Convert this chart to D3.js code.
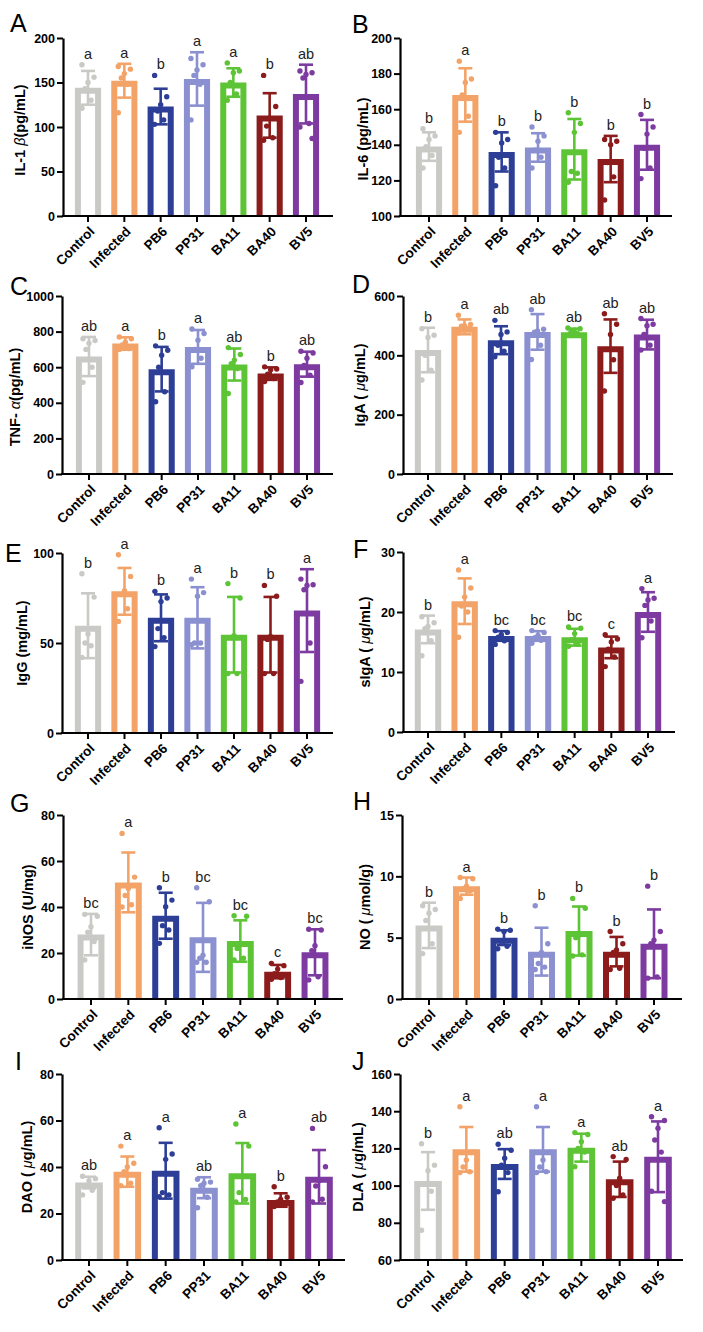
<!DOCTYPE html>
<html><head><meta charset="utf-8">
<script src="https://cdn.jsdelivr.net/npm/d3@7"></script>
<style>
body{margin:0;background:#fff;}
svg{display:block;font-family:"Liberation Sans",Arial,sans-serif;}
</style>
</head><body>
<svg id="chart" width="703" height="1332"></svg>
<script>
// ---------- data ----------
const categories = ["Control","Infected","PB6","PP31","BA11","BA40","BV5"];
const barColors = ["#c9c9c6","#f3a368","#2d3e97","#8b90d0","#5dc436","#8c1c1c","#7d3aa0"];

// A: IL-1β
const il1bTicks = [0,50,100,150,200];
const il1bMean = [144,152,123,154,150,113,137];
const il1bSD = [19,19,20,30,16,25,33];
const il1bPoints = [[170,156,150,143,130,121],[168,165,160,155,148,116],[158,134,125,118,108,103],[177,170,164,158,148,108],[172,163,161,150,137,130],[158,123,110,101,88,85],[163,161,159,155,104,100,87]];
const il1bSig = ["a","a","b","a","a","b","ab"];

// B: IL-6
const il6Ticks = [100,120,140,160,180,200];
const il6Mean = [139,168,136,138.5,137.5,132,140];
const il6SD = [8,15,11,8,17,13,14];
const il6Points = [[149,145,143,139,134,127],[187,177,175,168,156,147],[147,143,141,133,127,117],[150,145,142,137,133,127],[158,152,147,125,124,119],[143,142,140,130,122,109],[157,150,146,138,127,121]];
const il6Sig = ["b","a","b","b","b","b","b"];

// C: TNF-α
const tnfTicks = [0,200,400,600,800,1000];
const tnfMean = [660,733,589,714,615,564,617];
const tnfSD = [110,35,125,95,90,35,70];
const tnfPoints = [[760,750,735,700,600,515],[770,760,740,725,705,700],[720,695,667,600,462,406],[815,789,751,700,650,602],[710,671,640,620,592,452],[602,590,585,560,536,520],[690,680,650,610,555,514]];
const tnfSig = ["ab","a","b","a","ab","b","ab"];

// D: IgA
const igaTicks = [0,200,400,600];
const igaMean = [418,496,451,479,478,431,470];
const igaSD = [75,25,47,60,12,90,50];
const igaPoints = [[490,468,460,400,350,317],[535,504,500,498,490,475],[518,479,470,434,414,395],[554,488,482,478,434,386],[492,490,485,478,475,468],[540,505,470,420,385,280],[524,505,500,470,434,418]];
const igaSig = ["b","a","ab","ab","ab","ab","ab"];

// E: IgG
const iggTicks = [0,50,100];
const iggMean = [59.6,78.7,64,64,54.6,54.6,68];
const iggSD = [18,13,13,17,21,21,23];
const iggPoints = [[88.5,75.5,55,50,48.5,42],[99,87,79,77,69,62],[78.7,75,73,58,53,48],[85.5,78,76,50,50,49],[83,75,54,53,33,33],[82,76,53.7,52,33,33],[85.5,82.4,82,79.6,50,28.7]];
const iggSig = ["b","a","b","a","b","b","a"];

// F: sIgA
const sigaTicks = [0,10,20,30];
const sigaMean = [17.1,21.8,16,16,15.8,14.1,20];
const sigaSD = [2.3,3.8,0.8,0.8,1.4,1.8,3.3];
const sigaPoints = [[19.2,18.2,17.6,17.2,15.2,12.7],[27,24,22.5,21,20,15.8],[16.9,16.6,16.2,15.8,15.2,14.6],[16.9,16.6,16.1,15.7,15.3,14.8],[17.5,17.3,16.4,15.4,14.6,14.3],[16.2,15.5,15,13.8,12.5,10.9],[23.9,22.3,22,21.1,18.5,15.7]];
const sigaSig = ["b","a","bc","bc","bc","c","a"];

// G: iNOS
const inosTicks = [0,20,40,60,80];
const inosMean = [28,50.7,36.2,26.8,25.2,11.9,20.3];
const inosSD = [9,13,10,15,9,2.9,10];
const inosPoints = [[36.8,36,31.4,29,25,17],[72,53,48,45,41,40],[48.4,43,40.1,31.9,30,24.2],[48.4,42.3,19,17.7,16,16],[36.2,36,23.9,22,17.7,17],[15.5,14.5,13,11,9.3,8.6],[30.3,30,23.2,21,9.7,8.3]];
const inosSig = ["bc","a","b","bc","bc","c","bc"];

// H: NO
const noTicks = [0,5,10,15];
const noMean = [6.0,9.2,5.0,3.86,5.54,3.86,4.5];
const noSD = [1.85,0.7,0.6,1.95,2.0,1.2,2.8];
const noPoints = [[7.6,7.3,7.0,6.4,4.5,3.7],[9.9,9.8,9.2,9.0,8.8,8.2],[5.7,5.6,5.5,4.7,4.3,4.1],[7.6,4.5,3.8,2.9,2.6,2.4],[8.2,7.4,5.2,5.0,3.6,3.5],[5.5,4.5,4.0,3.8,2.5,2.4],[9.2,5.5,4.8,4.5,1.8,1.7]];
const noSig = ["b","a","b","b","b","b","b"];

// I: DAO
const daoTicks = [0,20,40,60,80];
const daoMean = [33.3,38,38.4,31.1,37.3,25.8,35.8];
const daoSD = [2.5,6.5,12,4.5,13,2.9,11.5];
const daoPoints = [[36,35,34,32,30,28],[49,41.6,40,38,33,32],[56.9,45.6,43.3,29,28,27.2],[34.7,33.5,33,32,27,22.5],[58.5,49,36,29,26,25],[31.5,27,26,25,24,23],[56.6,40.1,34.1,31.8,26.1,25]];
const daoSig = ["ab","a","a","ab","a","b","ab"];

// J: DLA
const dlaTicks = [60,80,100,120,140,160];
const dlaMean = [102.5,119.5,111.6,119.5,120.4,103.4,115.5];
const dlaSD = [15.5,12,8,12,7.5,9.5,19];
const dlaPoints = [[122.5,111,108,101,97,76],[142.4,118,113.8,110,107.5,107],[122.2,119,114.7,111,107,96.7],[142.4,118,113.8,110,107.5,107],[128.5,127.5,123.6,120,118,110.2],[115.6,114,104,100,95,93.2],[137,135,130.8,124.5,118,97,91.4]];
const dlaSig = ["b","a","ab","a","a","ab","a"];

// ---------- layout ----------
const panels = [
  {letter:"A", lx:10, ly:32, label:[["IL-1 ",0],["β",1],["(pg/mL)",0]], ylx:20, yldy:3,
   ticks:il1bTicks, mean:il1bMean, sd:il1bSD, pts:il1bPoints, sig:il1bSig,
   ax:63, top:38, bot:216, xEnd:333, c0:88, c6:306},
  {letter:"B", lx:352, ly:33, label:[["IL-6 (pg/mL)",0]], ylx:363, yldy:12,
   ticks:il6Ticks, mean:il6Mean, sd:il6SD, pts:il6Points, sig:il6Sig,
   ax:400, top:38, bot:216, xEnd:672, c0:429, c6:647},
  {letter:"C", lx:10, ly:295, label:[["TNF- ",0],["α",1],["(pg/mL)",0]], ylx:15, yldy:12,
   ticks:tnfTicks, mean:tnfMean, sd:tnfSD, pts:tnfPoints, sig:tnfSig,
   ax:62, top:296, bot:474, xEnd:333, c0:89, c6:307},
  {letter:"D", lx:352, ly:293, label:[["IgA ( ",0],["μ",1],["g/mL)",0]], ylx:360, yldy:0,
   ticks:igaTicks, mean:igaMean, sd:igaSD, pts:igaPoints, sig:igaSig,
   ax:403, top:296, bot:474, xEnd:673, c0:428, c6:647},
  {letter:"E", lx:5, ly:562, label:[["IgG (mg/mL)",0]], ylx:22, yldy:0,
   ticks:iggTicks, mean:iggMean, sd:iggSD, pts:iggPoints, sig:iggSig,
   ax:62, top:553, bot:733, xEnd:333, c0:88, c6:307},
  {letter:"F", lx:353, ly:558, label:[["sIgA ( ",0],["μ",1],["g/mL)",0]], ylx:365, yldy:0,
   ticks:sigaTicks, mean:sigaMean, sd:sigaSD, pts:sigaPoints, sig:sigaSig,
   ax:403, top:552, bot:732, xEnd:675, c0:428, c6:648},
  {letter:"G", lx:10, ly:812, label:[["iNOS (U/mg)",0]], ylx:28, yldy:0,
   ticks:inosTicks, mean:inosMean, sd:inosSD, pts:inosPoints, sig:inosSig,
   ax:63, top:815, bot:999, xEnd:343, c0:91, c6:315},
  {letter:"H", lx:353, ly:810, label:[["NO ( ",0],["μ",1],["mol/g)",0]], ylx:365, yldy:0,
   ticks:noTicks, mean:noMean, sd:noSD, pts:noPoints, sig:noSig,
   ax:402, top:815, bot:999, xEnd:682, c0:429, c6:654},
  {letter:"I", lx:15, ly:1070, label:[["DAO ( ",0],["μ",1],["g/mL)",0]], ylx:27, yldy:0,
   ticks:daoTicks, mean:daoMean, sd:daoSD, pts:daoPoints, sig:daoSig,
   ax:62, top:1074, bot:1260, xEnd:345, c0:89, c6:319},
  {letter:"J", lx:352, ly:1070, label:[["DLA ( ",0],["μ",1],["g/mL)",0]], ylx:358, yldy:0,
   ticks:dlaTicks, mean:dlaMean, sd:dlaSD, pts:dlaPoints, sig:dlaSig,
   ax:400, top:1074, bot:1260, xEnd:683, c0:428, c6:658}
];

const offsets = [-0.3, 0.3, 0, -0.15, 0.15, -0.3, 0.3];
const svg = d3.select("#chart");
svg.append("rect").attr("width",703).attr("height",1332).attr("fill","#fff");

panels.forEach(p => {
  const g = svg.append("g");
  const step = (p.c6 - p.c0) / 6;
  const x = d3.scaleBand().domain(categories)
    .range([p.c0 - step/2, p.c6 + step/2]).paddingInner(0.28).paddingOuter(0.14);
  const y = d3.scaleLinear().domain([p.ticks[0], p.ticks[p.ticks.length-1]]).range([p.bot, p.top]);
  const bw = x.bandwidth();
  const sw = 6;
  const cx = c => x(c) + bw/2;

  // bars (open outline, bottom edge hidden under the axis)
  g.selectAll("path.bar").data(categories).join("path")
    .attr("d", (c,i) => {
      const x0 = x(c) + sw/2, x1 = x(c) + bw - sw/2, yt = y(p.mean[i]) + sw/2, yb = y(p.ticks[0]);
      return `M${x0},${yb}V${yt}H${x1}V${yb}`;
    })
    .attr("fill","#fff")
    .attr("stroke",(c,i)=>barColors[i])
    .attr("stroke-width", sw)
    .attr("stroke-linejoin","miter");

  // error bars
  categories.forEach((c,i) => {
    const col = barColors[i];
    const yt = y(p.mean[i] + p.sd[i]), yb = y(Math.max(p.ticks[0], p.mean[i] - p.sd[i]));
    const eg = g.append("g").attr("stroke", col).attr("stroke-width", 2.6).attr("fill","none");
    eg.append("line").attr("x1",cx(c)).attr("x2",cx(c)).attr("y1",yt).attr("y2",yb);
    eg.append("line").attr("x1",cx(c)-7).attr("x2",cx(c)+7).attr("y1",yt).attr("y2",yt);
    eg.append("line").attr("x1",cx(c)-7).attr("x2",cx(c)+7).attr("y1",yb).attr("y2",yb);
  });

  // points
  categories.forEach((c,i) => {
    g.selectAll(null).data(p.pts[i]).join("circle")
      .attr("cx", (v,k) => cx(c) + offsets[k % offsets.length] * (bw - sw))
      .attr("cy", v => y(v))
      .attr("r", 2.7)
      .attr("fill", barColors[i]);
  });

  // significance letters
  categories.forEach((c,i) => {
    const topVal = Math.max(p.mean[i] + p.sd[i], d3.max(p.pts[i]));
    g.append("text").attr("x", cx(c)).attr("y", y(topVal) - 6)
      .attr("text-anchor","middle").attr("font-size",14.5).attr("fill","#222")
      .text(p.sig[i]);
  });

  // y axis
  const yAxis = g.append("g").attr("transform",`translate(${p.ax},0)`)
    .call(d3.axisLeft(y).tickValues(p.ticks).tickSize(6).tickSizeOuter(0).tickPadding(2).tickFormat(d3.format("d")));
  yAxis.select(".domain").attr("stroke","#000").attr("stroke-width",2.2);
  yAxis.selectAll(".tick line").attr("stroke","#000").attr("stroke-width",2);
  yAxis.selectAll(".tick text").attr("font-size",12.5).attr("font-weight","bold").attr("fill","#000")
    .attr("font-family","Liberation Sans, Arial, sans-serif");

  // x axis
  const xAxis = g.append("g").attr("transform",`translate(0,${p.bot})`)
    .call(d3.axisBottom(x).tickSize(6).tickSizeOuter(0));
  xAxis.select(".domain").remove();
  xAxis.selectAll(".tick line").attr("stroke","#000").attr("stroke-width",2);
  xAxis.selectAll(".tick text")
    .attr("font-size",13.5).attr("font-weight","bold").attr("fill","#000")
    .attr("font-family","Liberation Sans, Arial, sans-serif")
    .attr("x",0).attr("y",0).attr("dy","0.35em")
    .attr("text-anchor","end")
    .attr("transform","translate(4,13) rotate(-45)");
  g.append("line").attr("x1",p.ax - 1.1).attr("x2",p.xEnd).attr("y1",p.bot).attr("y2",p.bot)
    .attr("stroke","#000").attr("stroke-width",2.2);

  // y label
  const lt = g.append("text")
    .attr("transform",`translate(${p.ylx},${(p.top+p.bot)/2 + p.yldy}) rotate(-90)`)
    .attr("text-anchor","middle").attr("dominant-baseline","central")
    .attr("font-size",14.5).attr("font-weight","bold").attr("fill","#000");
  p.label.forEach(([t,it]) => {
    const ts = lt.append("tspan").text(t);
    if (it) ts.attr("font-style","italic").attr("font-weight","normal");
  });

  // panel letter
  g.append("text").attr("x",p.lx).attr("y",p.ly).attr("font-size",25).attr("fill","#000").text(p.letter);
});
</script>
</body></html>
